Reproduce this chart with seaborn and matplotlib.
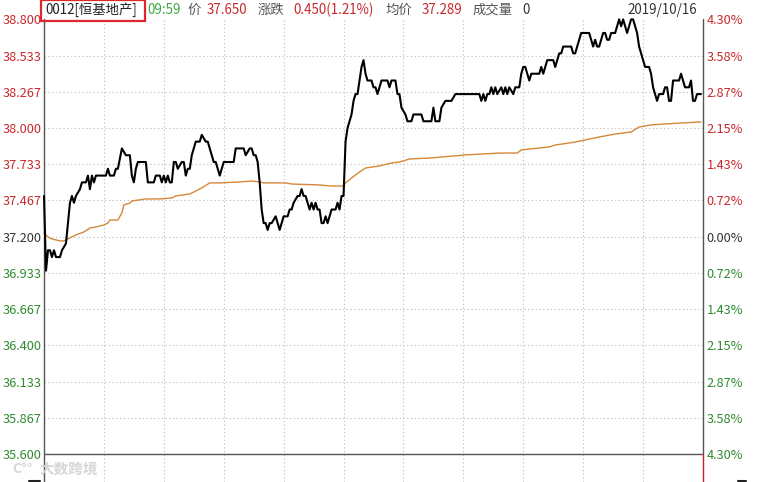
import matplotlib
matplotlib.use("Agg")
import matplotlib.pyplot as plt
import numpy as np
import seaborn as sns
from matplotlib.patches import Rectangle
from matplotlib.lines import Line2D

# ── data (minutes since 09:30, lunch break removed; 150 = 12:00/13:00) ──
PREV_CLOSE = 37.200

am_min = [0, 1, 2, 3, 4, 5, 6, 7, 8, 9,
          11, 12, 13, 14, 15, 16, 18, 19, 21, 22,
          23, 24, 25, 26, 31, 32, 33, 35, 36, 37,
          39, 41, 43, 44, 45, 46, 47, 51, 52, 53,
          55, 56, 58, 59, 60, 61, 62, 63, 64, 65,
          66, 67, 69, 70, 71, 72, 73, 74, 75, 76,
          78, 79, 81, 82, 83, 84, 85, 86, 87, 88,
          89, 90, 95, 96, 100, 101, 103, 104, 105, 106,
          107, 108, 109, 110, 111, 112, 113, 114, 116, 117,
          118, 119, 120, 122, 123, 124, 125, 127, 128, 129,
          130, 131, 132, 133, 134, 135, 136, 137, 138, 139,
          140, 141, 142, 143, 144, 146, 147, 148, 149, 150]
am_price = [37.50, 36.95, 37.10, 37.10, 37.05, 37.10, 37.05, 37.05, 37.05, 37.10,
            37.15, 37.30, 37.45, 37.50, 37.45, 37.50, 37.55, 37.60, 37.60, 37.65,
            37.55, 37.65, 37.60, 37.65, 37.65, 37.70, 37.65, 37.65, 37.70, 37.70,
            37.85, 37.80, 37.80, 37.65, 37.60, 37.70, 37.75, 37.75, 37.60, 37.60,
            37.60, 37.65, 37.65, 37.60, 37.65, 37.60, 37.65, 37.60, 37.60, 37.75,
            37.75, 37.70, 37.75, 37.75, 37.65, 37.70, 37.70, 37.80, 37.85, 37.90,
            37.90, 37.95, 37.90, 37.90, 37.85, 37.80, 37.75, 37.75, 37.70, 37.65,
            37.70, 37.75, 37.75, 37.85, 37.85, 37.80, 37.85, 37.85, 37.80, 37.80,
            37.75, 37.60, 37.40, 37.30, 37.30, 37.25, 37.30, 37.30, 37.35, 37.30,
            37.25, 37.30, 37.35, 37.35, 37.40, 37.40, 37.45, 37.50, 37.50, 37.55,
            37.50, 37.50, 37.45, 37.40, 37.45, 37.40, 37.45, 37.40, 37.40, 37.30,
            37.30, 37.35, 37.30, 37.35, 37.40, 37.40, 37.45, 37.40, 37.50, 37.50]

pm_min = [151, 152, 153, 154, 155, 156, 157, 158, 159, 160,
          161, 162, 164, 165, 166, 167, 168, 169, 170, 172,
          173, 174, 176, 177, 178, 179, 181, 182, 184, 185,
          189, 190, 194, 195, 196, 198, 199, 201, 204, 206,
          218, 219, 220, 221, 222, 223, 224, 225, 226, 227,
          229, 230, 231, 232, 233, 235, 236, 238, 239, 240,
          241, 242, 243, 244, 248, 249, 250, 251, 252, 255,
          256, 257, 258, 259, 260, 264, 265, 266, 267, 268,
          269, 273, 274, 275, 276, 277, 278, 279, 280, 281,
          282, 283, 284, 286, 287, 288, 289, 290, 291, 292,
          293, 294, 295, 296, 297, 298, 299, 300, 301, 302,
          303, 304, 305, 306, 307, 308, 310, 311, 312, 313,
          314, 315, 318, 319, 320, 321, 323, 324, 325, 326,
          327, 329]
pm_price = [37.90, 38.00, 38.05, 38.10, 38.20, 38.25, 38.25, 38.35, 38.45, 38.50,
            38.40, 38.35, 38.35, 38.30, 38.30, 38.25, 38.30, 38.35, 38.35, 38.35,
            38.30, 38.35, 38.35, 38.25, 38.25, 38.15, 38.10, 38.05, 38.05, 38.10,
            38.10, 38.05, 38.05, 38.15, 38.05, 38.05, 38.15, 38.20, 38.20, 38.25,
            38.25, 38.20, 38.25, 38.20, 38.25, 38.25, 38.30, 38.25, 38.30, 38.25,
            38.30, 38.25, 38.30, 38.25, 38.30, 38.25, 38.30, 38.30, 38.40, 38.45,
            38.45, 38.40, 38.35, 38.40, 38.40, 38.45, 38.40, 38.45, 38.50, 38.50,
            38.45, 38.50, 38.55, 38.55, 38.60, 38.60, 38.55, 38.55, 38.60, 38.65,
            38.70, 38.70, 38.65, 38.60, 38.65, 38.60, 38.60, 38.65, 38.70, 38.70,
            38.65, 38.65, 38.70, 38.70, 38.75, 38.80, 38.75, 38.80, 38.75, 38.70,
            38.75, 38.80, 38.80, 38.75, 38.70, 38.60, 38.55, 38.50, 38.45, 38.45,
            38.45, 38.40, 38.30, 38.25, 38.20, 38.25, 38.25, 38.30, 38.30, 38.20,
            38.20, 38.35, 38.35, 38.40, 38.35, 38.30, 38.30, 38.35, 38.20, 38.20,
            38.25, 38.25]

avg_min = [0, 2, 4, 8, 10, 13, 16, 20, 23, 26,
           30, 32, 33, 37, 39, 40, 43, 44, 51, 58,
           64, 66, 73, 75, 79, 83, 88, 98, 104, 108,
           110, 121, 124, 138, 144, 150, 151, 154, 158, 161,
           168, 174, 178, 183, 194, 211, 228, 237, 239, 253,
           256, 266, 278, 286, 294, 298, 304, 311, 319, 329]
avg_price = [37.227, 37.198, 37.183, 37.169, 37.169, 37.191, 37.213, 37.235, 37.264, 37.272,
             37.286, 37.301, 37.323, 37.323, 37.375, 37.434, 37.448, 37.463, 37.478, 37.478,
             37.485, 37.500, 37.515, 37.529, 37.559, 37.596, 37.596, 37.603, 37.610, 37.603,
             37.596, 37.596, 37.588, 37.581, 37.573, 37.573, 37.596, 37.632, 37.677, 37.706,
             37.721, 37.743, 37.750, 37.772, 37.780, 37.802, 37.816, 37.816, 37.839, 37.861,
             37.875, 37.897, 37.934, 37.956, 37.971, 38.008, 38.023, 38.030, 38.037, 38.045]

price_ticks = list(np.linspace(35.6, 38.8, 13))
time_grid = [30, 60, 90, 120, 150, 180, 210, 240, 270, 300]

# header strings: (text, x_px, colour)
header = [
    ("0012[恒基地产]", 45, "#222222"),
    ("09:59", 147, "#3da845"),
    ("价", 187, "#555555"),
    ("37.650", 207, "#c8282c"),
    ("涨跌", 258, "#555555"),
    ("0.450(1.21%)", 293, "#c8282c"),
    ("均价", 385, "#555555"),
    ("37.289", 422, "#c8282c"),
    ("成交量", 473, "#555555"),
    ("0", 522, "#333333"),
    ("2019/10/16", 627, "#333333"),
]

# ── style ──
RED = "#c8282c"
GREEN = "#2f8a2f"
DARK = "#333333"
GRID = "#c4c4c4"
AXIS = "#555555"
W, H = 764, 482

sns.set_theme(style="white")
plt.rcParams["font.family"] = ["Noto Sans CJK SC", "DejaVu Sans"]


def label_colour(v):
    if v > PREV_CLOSE + 1e-6:
        return RED
    if v < PREV_CLOSE - 1e-6:
        return GREEN
    return DARK


fig = plt.figure(figsize=(W / 100, H / 100), dpi=100)
fig.patch.set_facecolor("white")
top_px = 19.4
ax = fig.add_axes([44 / W, 0, 659 / W, (H - top_px) / H])

px_per_unit = (454 - top_px) / 3.2
ymin = 35.6 - (H - 454) / px_per_unit
ax.set_xlim(0, 330)
ax.set_ylim(ymin, 38.8)

# grid
dotted = (0, (1.2, 2.2))
for v in price_ticks[1:-1]:
    ax.axhline(v, color=GRID, lw=0.8, ls=dotted, zorder=1)
for m in time_grid:
    ax.axvline(m, color=GRID, lw=0.8, ls=dotted, zorder=1)
ax.axhline(35.6, color=AXIS, lw=1.0, zorder=2)

# lines
sns.lineplot(x=avg_min, y=avg_price, ax=ax, color="#d4883a", lw=1.0,
             estimator=None, sort=False, zorder=3)
sns.lineplot(x=am_min + pm_min, y=am_price + pm_price, ax=ax, color="black",
             lw=1.5, estimator=None, sort=False, zorder=4)
for ln in ax.lines[-2:]:
    ln.set_clip_on(False)

# axes frame
for s in ["top", "right", "bottom"]:
    ax.spines[s].set_visible(False)
ax.spines["left"].set_color(AXIS)
ax.spines["left"].set_linewidth(1.0)
frac = (35.6 - ymin) / (38.8 - ymin)
ax.axvline(330, ymin=frac, ymax=1, color=AXIS, lw=1.0, clip_on=False, zorder=5)
ax.axvline(330, ymin=0, ymax=frac, color="#d02020", lw=1.0, clip_on=False, zorder=5)

ax.set_xticks([])
ax.set_yticks(price_ticks)
ax.set_yticklabels([f"{v:.3f}" for v in price_ticks], fontsize=9.2)
ax.tick_params(axis="y", length=0, pad=1.5)
for lab, v in zip(ax.get_yticklabels(), price_ticks):
    lab.set_color(label_colour(v))
ax.set_xlabel("")
ax.set_ylabel("")
ax.grid(False)

ax2 = ax.twinx()
ax2.set_ylim(ax.get_ylim())
ax2.set_yticks(price_ticks)
ax2.set_yticklabels([f"{abs(v - PREV_CLOSE) / PREV_CLOSE * 100:.2f}%" for v in price_ticks],
                    fontsize=9.2)
ax2.tick_params(axis="y", length=0, pad=2.5)
for lab, v in zip(ax2.get_yticklabels(), price_ticks):
    lab.set_color(label_colour(v))
for s in ax2.spines.values():
    s.set_visible(False)
ax2.grid(False)

# header row
for txt, x, col in header:
    fig.text(x / W, 1 - 10 / H, txt, color=col, fontsize=9.6, ha="left", va="center")
fig.patches.append(Rectangle((41 / W, 1 - 21 / H), 104 / W, 21 / H, transform=fig.transFigure,
                             fill=False, edgecolor="#e0262b", lw=1.6))

# watermark and small bits at bottom edge
fig.text(40 / W, 1 - 469 / H, "大数跨境", color="#d6d6d6", fontsize=10.5,
         fontweight="bold", ha="left", va="center")
fig.text(12 / W, 1 - 469 / H, "C°°", color="#d6d6d6", fontsize=10,
         fontweight="bold", ha="left", va="center")
fig.lines.append(Line2D([29 / W, 40 / W], [1 - 481 / H] * 2, transform=fig.transFigure,
                        color="#222222", lw=1.5))
fig.lines.append(Line2D([738 / W, 746 / W], [1 - 481 / H] * 2, transform=fig.transFigure,
                        color="#222222", lw=1.5))

fig.savefig("out.png", dpi=100, facecolor="white")
